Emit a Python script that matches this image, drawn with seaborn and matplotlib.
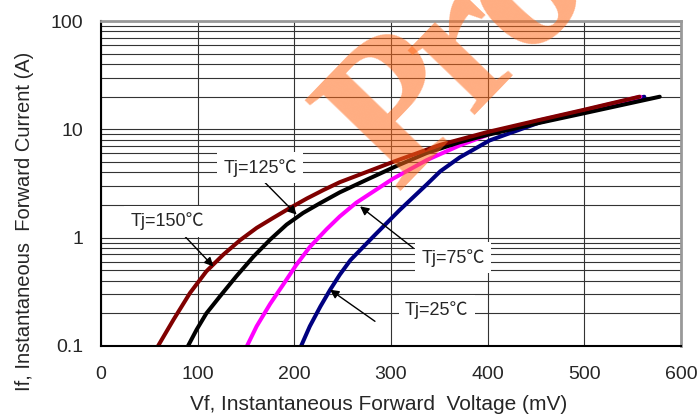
import numpy as np
import pandas as pd
import matplotlib
matplotlib.use("Agg")
import matplotlib.pyplot as plt
import seaborn as sns
from matplotlib.ticker import FixedLocator, NullFormatter

sns.set_style("white")
plt.rcParams['font.family'] = ['Liberation Sans', 'Noto Sans CJK SC', 'DejaVu Sans']

# ---- data ----
vf_150 = [59, 75, 92, 109, 126.5, 144, 161, 178, 195.5, 213, 230, 247, 302, 351, 399, 450, 499, 557]
if_150 = [0.1, 0.175, 0.308, 0.489, 0.697, 0.95, 1.23, 1.52, 1.88, 2.3, 2.75, 3.25, 5.0, 7.2, 9.4, 12.0, 15.1, 20.0]

vf_125 = [90, 99, 109, 123, 140, 158, 175, 192, 209, 227, 247, 275, 306, 337, 371, 400, 450, 500, 578]
if_125 = [0.1, 0.142, 0.2, 0.287, 0.44, 0.673, 0.96, 1.32, 1.69, 2.09, 2.62, 3.43, 4.6, 6.05, 7.6, 8.9, 11.3, 14.1, 20.0]

vf_75 = [151, 161, 175, 189, 202, 216, 233.5, 247, 264, 302, 337, 371, 406, 450, 500, 558]
if_75 = [0.1, 0.152, 0.245, 0.375, 0.56, 0.82, 1.2, 1.57, 2.1, 3.5, 5.2, 7.1, 9.3, 11.9, 15.0, 20.0]

vf_25 = [207, 216, 227, 237, 247, 258, 282, 309, 337, 351, 371, 402, 454, 500, 562]
if_25 = [0.1, 0.152, 0.232, 0.33, 0.455, 0.62, 1.03, 1.8, 3.1, 4.1, 5.5, 7.9, 11.6, 14.8, 20.0]

series_names = ["Tj=25℃", "Tj=75℃", "Tj=125℃", "Tj=150℃"]
series_colors = ["#000080", "#FF00FF", "#000000", "#800000"]

x_ticks = [0, 100, 200, 300, 400, 500, 600]
y_ticks = [0.1, 1, 10, 100]
y_tick_labels = ["0.1", "1", "10", "100"]

frames = []
for name, vx, vy in zip(series_names, [vf_25, vf_75, vf_125, vf_150],
                        [if_25, if_75, if_125, if_150]):
    frames.append(pd.DataFrame({"Vf": vx, "If": vy, "Tj": name}))
df = pd.concat(frames, ignore_index=True)

fig = plt.figure(figsize=(6.98, 4.16), dpi=100)
ax = fig.add_axes([101 / 698, 1 - 346 / 416, 580 / 698, 325 / 416])

ax.set_yscale("log")
ax.set_xlim(0, 600)
ax.set_ylim(0.1, 100)

# grid
minor = [m * 10.0 ** e for e in (-1, 0, 1) for m in range(2, 10)]
ax.yaxis.set_major_locator(FixedLocator(y_ticks))
ax.yaxis.set_minor_locator(FixedLocator(minor))
ax.yaxis.set_minor_formatter(NullFormatter())
ax.set_yticklabels(y_tick_labels)
ax.set_xticks(x_ticks)
ax.grid(True, which="major", axis="both", color="#333333", lw=0.8)
ax.grid(True, which="minor", axis="y", color="#333333", lw=0.8)
ax.set_axisbelow(True)

sns.lineplot(data=df, x="Vf", y="If", hue="Tj", hue_order=series_names,
             palette=dict(zip(series_names, series_colors)), sort=False,
             estimator=None, lw=2.9, legend=False, ax=ax,
             solid_capstyle="round", solid_joinstyle="round")

ax.tick_params(axis="both", which="both", length=0, labelsize=14)
ax.tick_params(axis="y", pad=13)
ax.tick_params(axis="x", pad=14.5)

for s in ("left", "bottom"):
    ax.spines[s].set_color("black")
    ax.spines[s].set_linewidth(1.5)
for s in ("top", "right"):
    ax.spines[s].set_color("#999999")
    ax.spines[s].set_linewidth(2.0)

ax.set_xlabel("Vf, Instantaneous Forward  Voltage (mV)", fontsize=15)
ax.set_ylabel("If, Instantaneous  Forward Current (A)", fontsize=14.5)
ax.xaxis.set_label_coords(0.478, -0.152)
ax.yaxis.set_label_coords(-0.116, 0.384)

# annotations (text positions and arrow endpoints)
annots = [
    ("Tj=150℃", (68.3, 1.41), (83.5, 1.105), (116.2, 0.543)),
    ("Tj=125℃", (164.5, 4.43), (169.7, 3.22), (202.4, 1.63)),
    ("Tj=75℃", (364.0, 0.654), (323.0, 0.803), (268.0, 1.945)),
    ("Tj=25℃", (347.3, 0.216), (283.4, 0.169), (236.9, 0.331)),
]
for label, tpos, start, tip in annots:
    ax.annotate("", xy=tip, xytext=start,
                arrowprops=dict(arrowstyle="-|>", color="black", lw=1.0,
                                mutation_scale=13, shrinkA=0, shrinkB=0),
                zorder=6)
    ax.text(tpos[0], tpos[1], label, fontsize=13, ha="center", va="center",
            bbox=dict(boxstyle="square,pad=0.35", fc="white", ec="none"),
            zorder=7)

# watermark (letters placed individually, semi-transparent)
for ch, (px, py) in [("P", (396, 192)), ("r", (470, 115)), ("o", (524, 59))]:
    fig.text(px / 698, 1 - py / 416, ch, fontsize=145, fontweight="bold",
             family="Liberation Serif", color="#FF6A1A", alpha=0.55,
             rotation=46, rotation_mode="anchor", ha="left", va="baseline",
             zorder=10)

fig.savefig("out.png", dpi=100)
